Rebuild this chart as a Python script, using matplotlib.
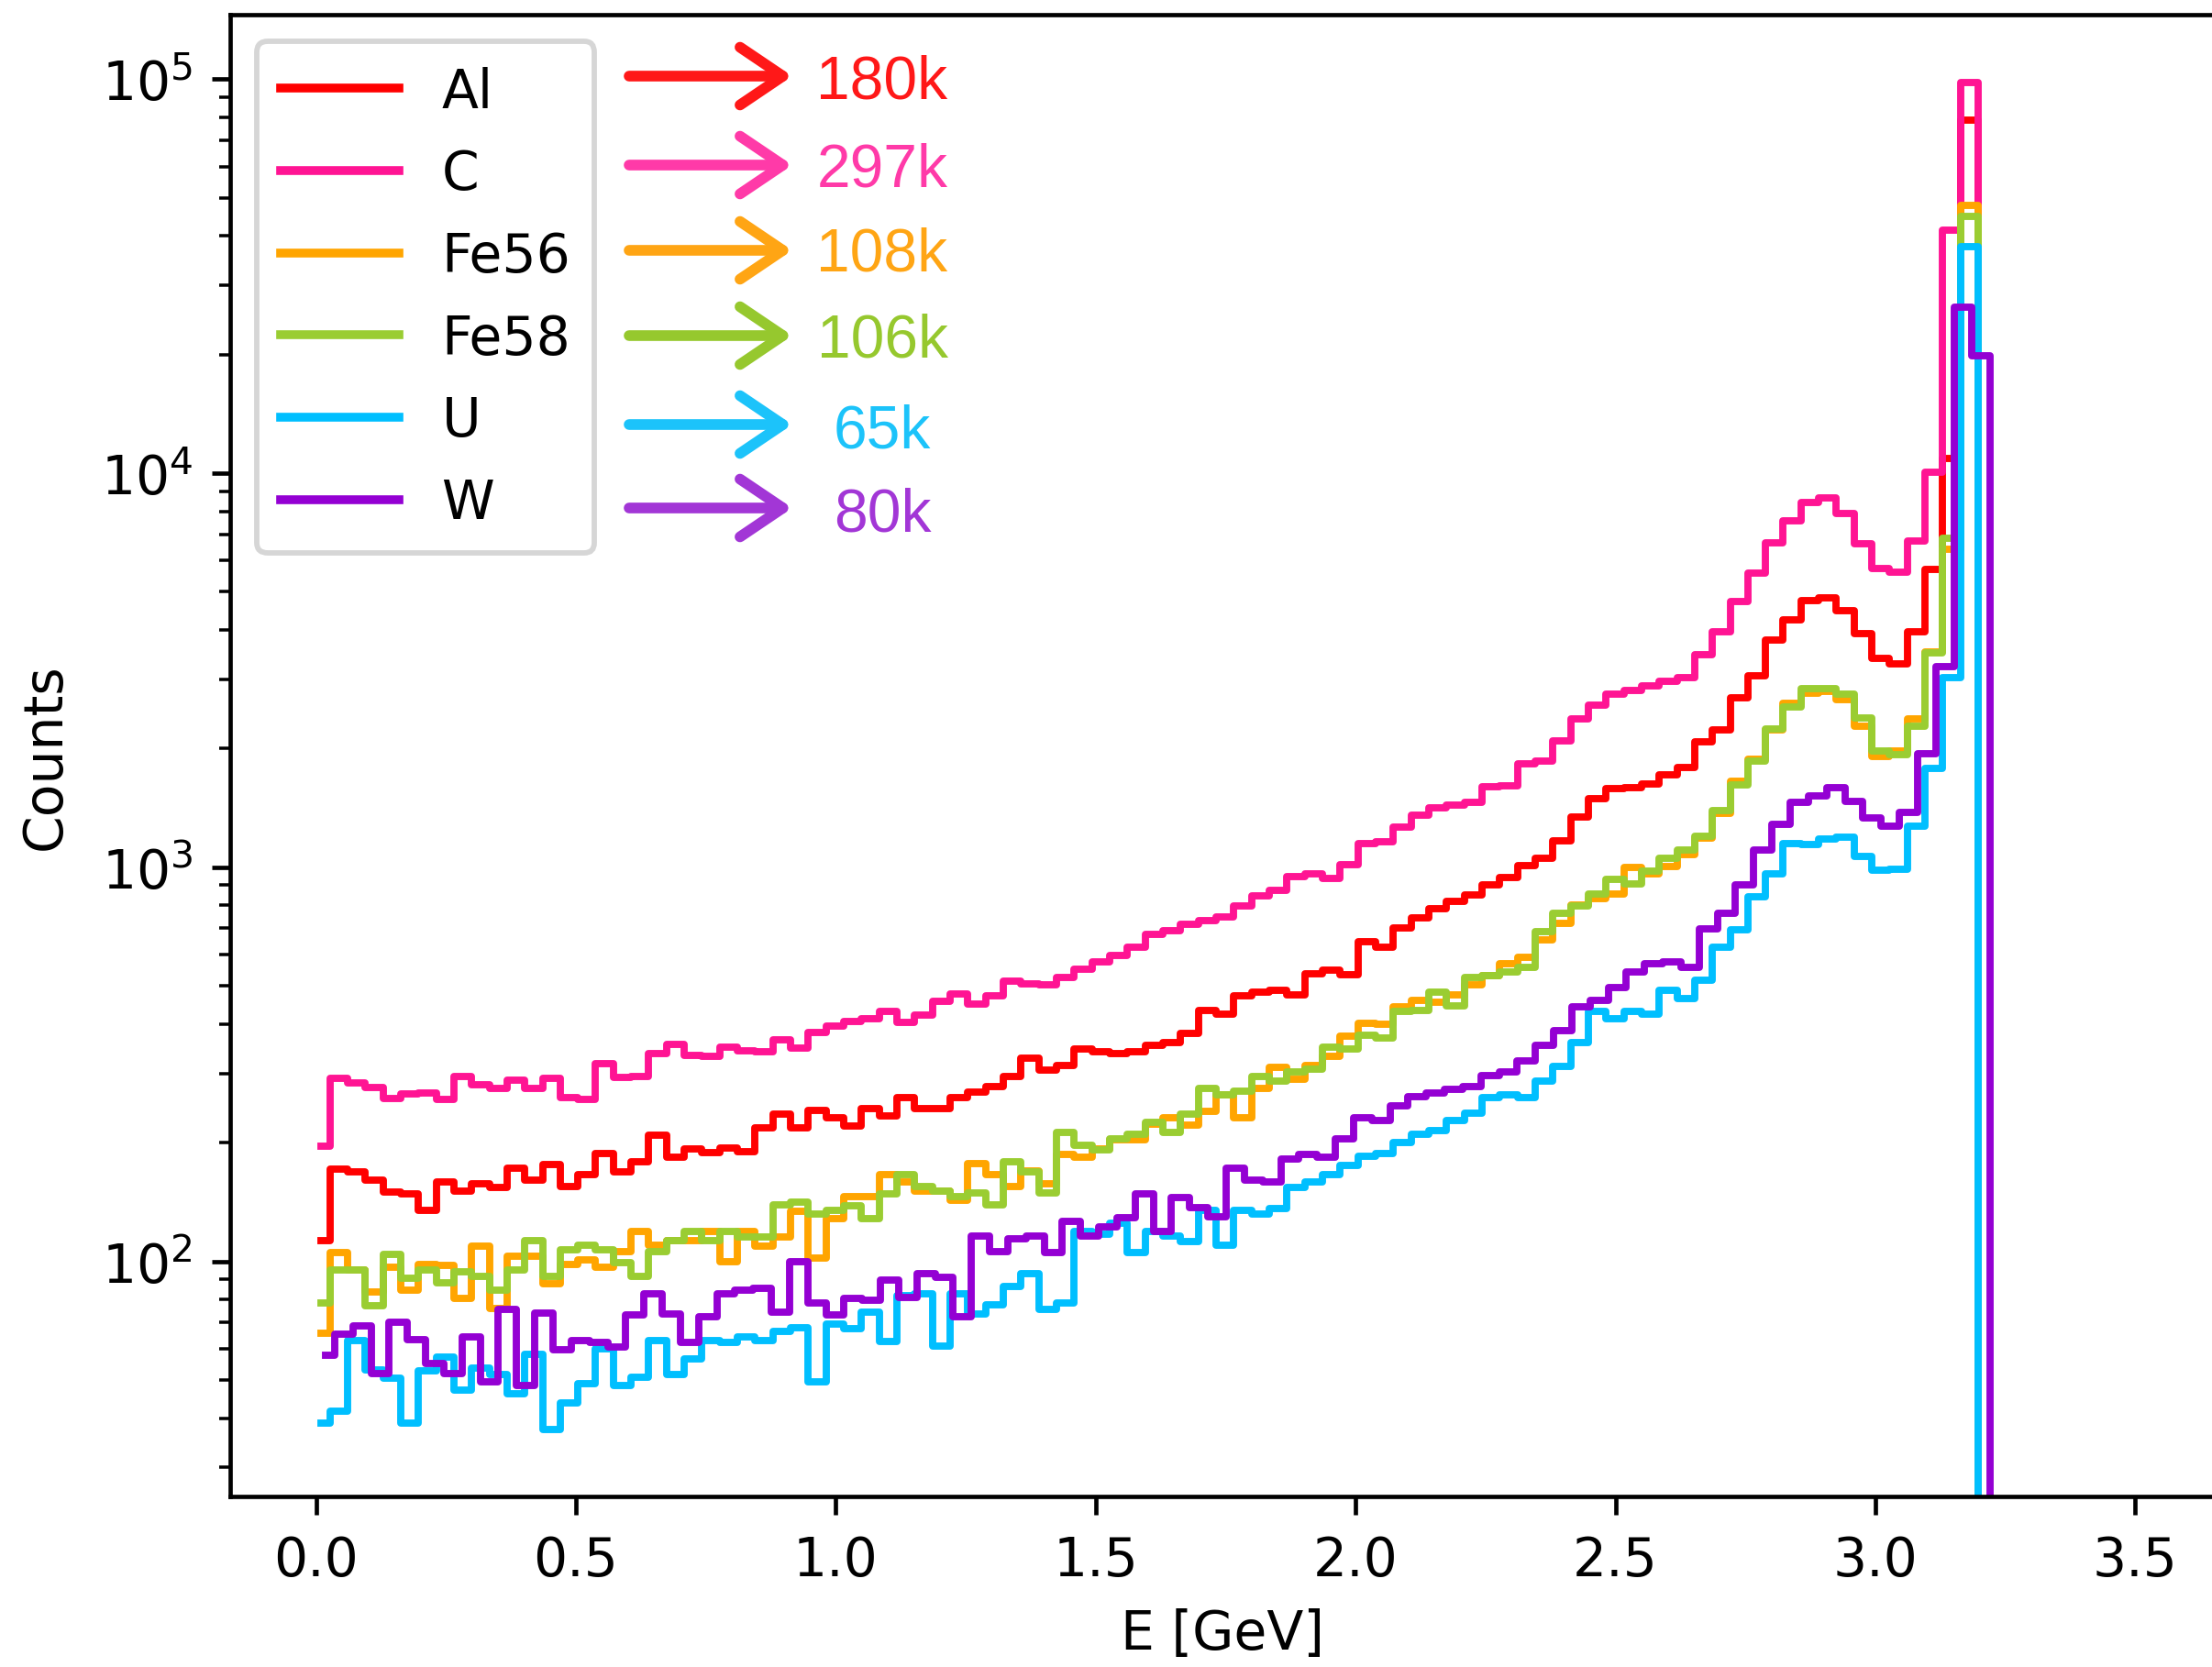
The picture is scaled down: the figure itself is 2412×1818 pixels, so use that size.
import numpy as np
import matplotlib
matplotlib.use("Agg")
import matplotlib.pyplot as plt
from matplotlib.patches import FancyArrowPatch

# targets, line colours and total event counts (hand-written annotations)
targets = ["Al", "C", "Fe56", "Fe58", "U", "W"]
colors = ["red", "deeppink", "orange", "yellowgreen", "deepskyblue", "darkviolet"]
totals = ["180k", "297k", "108k", "106k", "65k", "80k"]
total_colors = ["#ff1818", "#ff3aa8", "#ffa514", "#96c82e", "#1cc3fa", "#a236d6"]

# energy bin centres [GeV]: common grid for Al/C/Fe/U, slightly wider bins for W
e_start, e_step = 0.0095, 0.0341
w_start, w_step = 0.0185, 0.035

al = [113, 171, 169, 161, 150, 148, 135, 159, 151, 157, 154, 172, 161, 176, 155, 166,
      188, 169, 179, 209, 184, 193, 189, 194, 190, 218, 236, 218, 241, 232, 221,
      244, 234, 260, 244, 244, 260, 269, 278, 294, 327, 306, 314, 345, 340, 336, 340,
      354, 359, 378, 432, 423, 471, 483, 487, 475, 538, 547, 535,
      646, 628, 703, 743, 786, 819, 850, 904, 943, 1011, 1055, 1170, 1338, 1497, 1583,
      1592, 1628, 1712, 1796, 2084, 2228, 2696, 3058, 3773, 4245,
      4738, 4815, 4486, 3907, 3382, 3275, 3970, 5690, 10920, 78700, 0]

c = [196, 291, 284, 276, 259, 266, 267, 258, 295, 280, 274, 288, 274, 291, 261, 257,
     318, 293, 295, 336, 355, 333, 331, 350, 343, 340, 365, 348, 380, 396, 406,
     412, 430, 404, 421, 456, 478, 450, 471, 514, 507, 503, 524, 550, 575, 598, 628,
     675, 689, 717, 731, 750, 798, 848, 876, 949, 962, 936, 1014,
     1150, 1163, 1265, 1357, 1415, 1435, 1463, 1600, 1612, 1831, 1862, 2096, 2376, 2585,
     2757, 2812, 2892, 2957, 3032, 3469, 3968, 4722, 5586, 6645, 7557,
     8447, 8640, 7920, 6637, 5744, 5600, 6745, 10080, 41400, 97950, 0]

fe56 = [65.7, 105, 95.1, 83.4, 96.5, 84.4, 98.2, 97.4, 80.7, 109, 75.9, 103, 103, 87.5,
        98.2, 101, 96.5, 106, 119, 110, 113, 113, 119, 100, 119, 109, 115, 134, 102, 128, 146,
        146, 166, 159, 151, 151, 143, 177, 166, 155, 170, 157, 187, 184, 193, 204, 204,
        223, 231, 222, 240, 264, 231, 275, 310, 290, 314, 331, 373,
        401, 399, 442, 459, 455, 475, 502, 531, 569, 590, 655, 722, 804, 831, 855,
        997, 961, 1006, 1075, 1189, 1368, 1651, 1884, 2228, 2607,
        2771, 2789, 2658, 2285, 1909, 1971, 2374, 3515, 6428, 47860, 0]

fe58 = [78.6, 95.1, 95.1, 77.2, 104, 90.7, 95.1, 88.3, 94.0, 91.5, 84.4, 95.1, 113, 91.5,
        107, 110, 107, 99.1, 91.5, 106, 113, 119, 113, 119, 115, 115, 139, 141, 132, 135, 138,
        128, 148, 166, 155, 151, 146, 149, 139, 179, 169, 149, 212, 197, 192, 205, 210,
        225, 212, 237, 275, 264, 271, 294, 286, 302, 307, 349, 346,
        374, 369, 430, 434, 481, 446, 524, 531, 543, 558, 687, 764, 797, 855, 930,
        909, 978, 1055, 1106, 1196, 1395, 1619, 1862, 2247, 2549,
        2834, 2834, 2745, 2390, 1971, 1928, 2285, 3493, 6855, 44870, 0]

u = [38.8, 41.7, 62.9, 53.1, 50.6, 38.8, 52.6, 57.0, 47.2, 53.6, 51.7, 46.0, 58.0, 37.5,
     43.6, 49.0, 60.1, 48.5, 50.8, 62.9, 51.7, 56.5, 62.9, 62.3, 64.2, 63.1, 66.3, 67.8,
     49.4, 69.4, 67.5,
     74.4, 62.6, 81.7, 82.8, 60.9, 82.8, 73.4, 77.5, 86.2, 93.3, 75.4, 78.5, 119, 117,
     125, 105, 119, 116, 112, 135, 110, 135, 132, 136, 154, 159, 166, 175,
     185, 188, 200, 210, 215, 228, 238, 260, 264, 260, 287, 312, 359, 430, 413,
     430, 424, 488, 464, 516, 628, 693, 843, 961, 1147,
     1142, 1179, 1191, 1064, 982, 991, 1270, 1779, 3022, 37620, 0]

w = [57.7, 65.4, 68.7, 51.8, 70.2, 63.4, 55.0, 51.8, 64.2, 49.4, 75.4, 48.5, 74.1, 59.6,
     63.1, 62.3, 60.7, 73.2, 82.9, 73.6, 62.3, 72.3, 82.9, 84.4, 85.5, 74.5, 100, 78.6,
     73.2, 80.7,
     79.6, 89.7, 81.1, 93.3, 90.9, 72.5, 116, 106, 114, 116, 105, 126, 116, 122, 129,
     148, 119, 145, 137, 130, 172, 161, 159, 182, 187, 184, 205, 231,
     228, 248, 262, 268, 273, 278, 296, 302, 323, 354, 385, 442, 459, 495, 543, 569,
     574, 558, 699, 764, 904, 1106, 1283, 1460,
     1515, 1590, 1467, 1332, 1270, 1376, 1946, 3222, 26410, 19910, 0]

series = [al, c, fe56, fe58, u, w]

W_PX, H_PX, DPI = 2412, 1819, 420
fig = plt.figure(figsize=(W_PX / DPI, H_PX / DPI), dpi=DPI)
# right spine sits just past the figure edge, as in the original crop
ax = fig.add_axes([0.10406, 0.10242, 0.8976, 0.88807])

for name, col, vals in zip(targets, colors, series):
    vals = np.asarray(vals, dtype=float)
    if name == "W":
        e = w_start + w_step * np.arange(len(vals))
    else:
        e = e_start + e_step * np.arange(len(vals))
    ax.step(e, vals, where="mid", color=col, lw=1.35, label=name)

ax.set_yscale("log")
ax.set_xlim(-0.165, 3.6546)
ax.set_ylim(10 ** 1.404, 10 ** 5.163)
ax.set_xlabel("E [GeV]")
ax.set_ylabel("Counts", labelpad=5.5)

leg = ax.legend(loc="upper left", handlelength=2.2, labelspacing=0.56, borderpad=0.45)
for ln in leg.get_lines():
    ln.set_linewidth(1.65)


def fig_xy(px, py):
    return px / W_PX, 1 - py / H_PX


# hand-drawn arrows pointing at the total counts
arrow_y = [84, 181, 274, 367, 464, 555]
text_base = [108, 203, 296, 390, 489, 579]
for tot, tc, ay, tb in zip(totals, total_colors, arrow_y, text_base):
    arr = FancyArrowPatch(fig_xy(686, ay), fig_xy(864, ay), transform=fig.transFigure,
                          arrowstyle="->,head_length=0.4,head_width=0.27",
                          mutation_scale=20, lw=2.0, color=tc,
                          capstyle="round", joinstyle="round",
                          shrinkA=0, shrinkB=0)
    fig.add_artist(arr)
    tx, ty = fig_xy(962, tb)
    fig.text(tx, ty, tot, ha="center", va="baseline", fontsize=11.3,
             family=["Liberation Sans", "DejaVu Sans"], color=tc)

fig.savefig("out.png", dpi=DPI)
